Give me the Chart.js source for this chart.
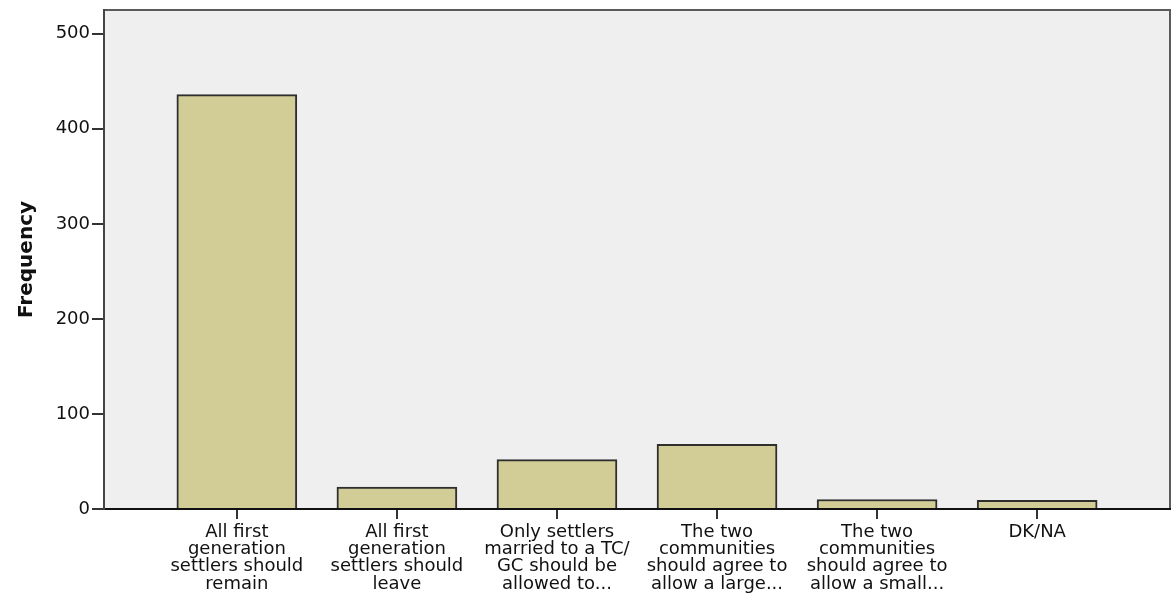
<!DOCTYPE html>
<html lang="en">
<head>
    <meta charset="UTF-8">
    <title>Frequency</title>
    <script src="https://cdn.jsdelivr.net/npm/chart.js"></script>
    <style>
        html, body { margin: 0; padding: 0; background: #ffffff; }
        #wrap { width: 1175px; height: 595px; }
    </style>
</head>
<body>
    <div id="wrap"><canvas id="freq-chart"></canvas></div>

    <script>
        // categories (multi-line tick labels) and counts
        const categories = [
            ['All first', 'generation', 'settlers should', 'remain'],
            ['All first', 'generation', 'settlers should', 'leave'],
            ['Only settlers', 'married to a TC/', 'GC should be', 'allowed to...'],
            ['The two', 'communities', 'should agree to', 'allow a large...'],
            ['The two', 'communities', 'should agree to', 'allow a small...'],
            ['DK/NA']
        ];
        const frequencies = [436, 23, 52, 68, 10, 9];
        const yTicks = [0, 100, 200, 300, 400, 500];

        // grey panel behind the bars + frame on top/right
        const panelPlugin = {
            id: 'panel',
            beforeDraw(chart) {
                const { ctx, chartArea: a } = chart;
                ctx.save();
                ctx.fillStyle = '#efefef';
                ctx.fillRect(a.left, a.top, a.right - a.left, a.bottom - a.top);
                ctx.strokeStyle = '#5a5a5a';
                ctx.lineWidth = 2;
                ctx.beginPath();
                ctx.moveTo(a.left, a.top);
                ctx.lineTo(a.right, a.top);
                ctx.lineTo(a.right, a.bottom);
                ctx.stroke();
                ctx.restore();
            }
        };

        const ctx = document.getElementById('freq-chart').getContext('2d');
        new Chart(ctx, {
            type: 'bar',
            data: {
                datasets: [{
                    label: 'Frequency',
                    data: frequencies.map((v, i) => ({ x: i, y: v })),
                    backgroundColor: '#d2cd96',
                    borderColor: '#2e2e2e',
                    borderWidth: 2,
                    borderSkipped: 'bottom',
                    barThickness: 120
                }]
            },
            options: {
                responsive: true,
                maintainAspectRatio: false,
                animation: false,
                layout: { padding: { top: 10, right: 5, left: 0, bottom: 0 } },
                plugins: {
                    legend: { display: false },
                    tooltip: { enabled: false }
                },
                scales: {
                    x: {
                        type: 'linear',
                        offset: false,
                        min: -0.83,
                        max: 5.83,
                        afterBuildTicks: (scale) => {
                            scale.ticks = categories.map((c, i) => ({ value: i }));
                        },
                        afterFit: (scale) => {
                            scale.height = 86;
                            scale.paddingLeft = 0;
                            scale.paddingRight = 0;
                        },
                        ticks: {
                            autoSkip: false,
                            maxRotation: 0,
                            minRotation: 0,
                            padding: 5,
                            color: '#111',
                            font: { family: 'DejaVu Sans', size: 18, lineHeight: 0.95 },
                            callback: (v) => categories[v] || ''
                        },
                        grid: {
                            offset: false,
                            drawOnChartArea: false,
                            drawTicks: true,
                            tickLength: 10,
                            color: '#333',
                            lineWidth: 2
                        },
                        border: { display: true, color: '#111', width: 2 }
                    },
                    y: {
                        min: 0,
                        max: 525,
                        afterBuildTicks: (scale) => {
                            scale.ticks = yTicks.map(v => ({ value: v }));
                        },
                        afterFit: (scale) => {
                            scale.width = 104;
                            scale.paddingTop = 0;
                            scale.paddingBottom = 0;
                        },
                        title: {
                            display: true,
                            text: 'Frequency',
                            color: '#111',
                            font: { family: 'DejaVu Sans', size: 20, weight: 'bold' },
                            padding: { top: 15, bottom: 0 }
                        },
                        ticks: {
                            padding: 2,
                            color: '#111',
                            font: { family: 'DejaVu Sans', size: 18 }
                        },
                        grid: {
                            drawOnChartArea: false,
                            drawTicks: true,
                            tickLength: 12,
                            color: '#333',
                            lineWidth: 2
                        },
                        border: { display: true, color: '#444', width: 2 }
                    }
                }
            },
            plugins: [panelPlugin]
        });
    </script>
</body>
</html>
